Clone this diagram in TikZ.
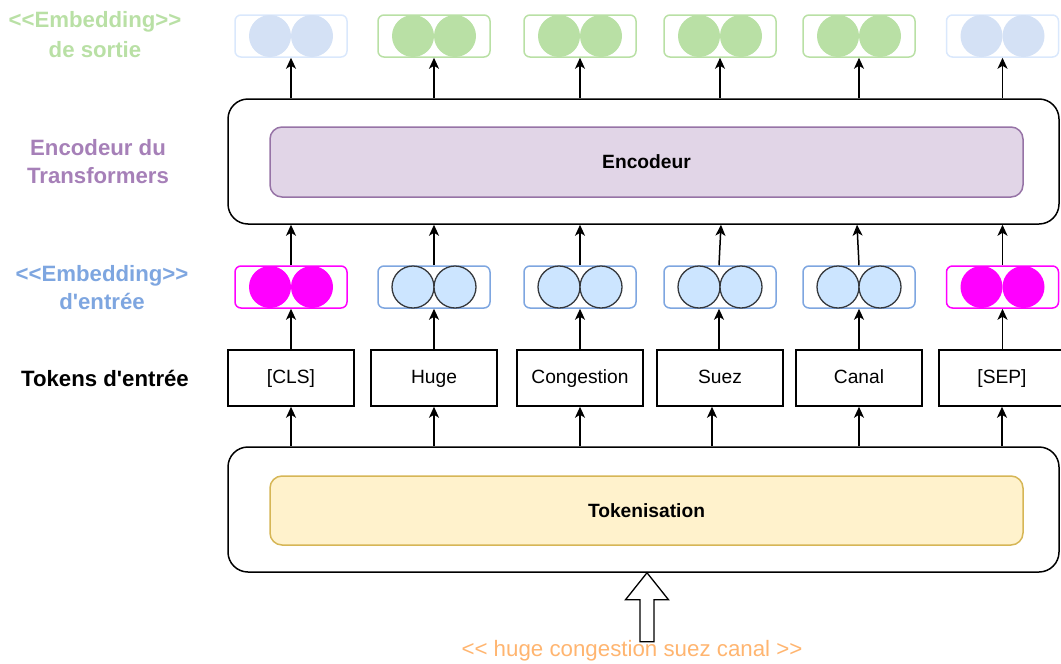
\documentclass[tikz,border=0pt]{standalone}
\usepackage{fontspec}
\setmainfont{Liberation Sans}[Ligatures=TeXOff]
\usetikzlibrary{arrows.meta,calc}
\definecolor{lgreen}{HTML}{B9E0A5}
\definecolor{lblue}{HTML}{D4E1F5}
\definecolor{lbluestroke}{HTML}{DAE8FC}
\definecolor{mblue}{HTML}{7EA6E0}
\definecolor{cblue}{HTML}{CCE5FF}
\definecolor{cstroke}{HTML}{36393D}
\definecolor{magent}{HTML}{FF00FF}
\definecolor{purp}{HTML}{A680B8}
\definecolor{purpfill}{HTML}{E1D5E7}
\definecolor{purpstroke}{HTML}{9673A6}
\definecolor{yelfill}{HTML}{FFF2CC}
\definecolor{yelstroke}{HTML}{D6B656}
\definecolor{orng}{HTML}{FFB570}
\begin{document}
\begin{tikzpicture}[x=1pt,y=-1pt,
  txt/.style={font=\fontsize{19.2}{22}\selectfont, text height=14pt, text depth=4pt},
  btxt/.style={font=\fontsize{19.2}{22}\selectfont\bfseries},
  lbl/.style={font=\fontsize{22.2}{28}\selectfont\bfseries, align=center, inner sep=0pt},
  outerbox/.style={draw=black, line width=1.5pt, rounded corners=20pt, minimum width=831pt, minimum height=125pt, inner sep=0pt},
  encbox/.style={draw=purpstroke, fill=purpfill, line width=1.5pt, rounded corners=12pt, minimum width=753pt, minimum height=70pt, inner sep=0pt, btxt},
  tokzbox/.style={draw=yelstroke, fill=yelfill, line width=1.5pt, rounded corners=12pt, minimum width=753pt, minimum height=69pt, inner sep=0pt, btxt},
  tokbox/.style={draw=black, line width=1.5pt, minimum width=126pt, minimum height=56pt, inner sep=0pt, txt},
  embbox/.style={line width=1.5pt, rounded corners=6pt, minimum width=112pt, minimum height=42pt, inner sep=0pt},
  dot/.style={circle, minimum size=42pt, inner sep=0pt},
  arr/.style={draw=black, line width=1.5pt, -{Stealth[length=11pt,width=10pt,inset=3pt]}}
]
\useasboundingbox (0,0) rectangle (1061,664);

% outer containers
\node[outerbox] (encout) at (643.5,161.5) {};
\node[encbox] (enc) at (646.5,162) {Encodeur};
\node[outerbox] (tokzout) at (643.5,509.5) {};
\node[tokzbox] (tokz) at (646.5,510.5) {Tokenisation};

% tokens
\node[tokbox] (tok1) at (291,378) {[CLS]};
\node[tokbox] (tok2) at (434,378) {Huge};
\node[tokbox] (tok3) at (580,378) {Congestion};
\node[tokbox] (tok4) at (720,378) {Suez};
\node[tokbox] (tok5) at (859,378) {Canal};
\node[tokbox] (tok6) at (1002,378) {[SEP]};

% input embeddings
\foreach \i/\x/\kind in {1/291/m,2/434/b,3/580/b,4/720/b,5/859/b,6/1002.5/m}{
  \if m\kind
    \node[embbox, draw=magent] (ein\i) at (\x,287) {};
    \node[dot, fill=magent] (einl\i) at ($(ein\i.center)+(-21,0)$) {};
    \node[dot, fill=magent] (einr\i) at ($(ein\i.center)+(21,0)$) {};
  \else
    \node[embbox, draw=mblue] (ein\i) at (\x,287) {};
    \node[dot, fill=cblue, draw=cstroke, line width=1.3pt] (einl\i) at ($(ein\i.center)+(-21,0)$) {};
    \node[dot, fill=cblue, draw=cstroke, line width=1.3pt] (einr\i) at ($(ein\i.center)+(21,0)$) {};
  \fi
}

% output embeddings
\foreach \i/\x/\kind in {1/291/b,2/434/g,3/580/g,4/720/g,5/859/g,6/1002.5/b}{
  \if b\kind
    \node[embbox, draw=lbluestroke] (eout\i) at (\x,36) {};
    \node[dot, fill=lblue] (eoutl\i) at ($(eout\i.center)+(-21,0)$) {};
    \node[dot, fill=lblue] (eoutr\i) at ($(eout\i.center)+(21,0)$) {};
  \else
    \node[embbox, draw=lgreen] (eout\i) at (\x,36) {};
    \node[dot, fill=lgreen] (eoutl\i) at ($(eout\i.center)+(-21,0)$) {};
    \node[dot, fill=lgreen] (eoutr\i) at ($(eout\i.center)+(21,0)$) {};
  \fi
}

% arrows: tokenisation -> tokens
\foreach \i in {1,2,3,5,6}{
  \draw[arr] (tokzout.north -| tok\i.south) -- (tok\i.south);
}
\coordinate (s4) at ([xshift=-8pt]tok4.south);
\draw[arr] (tokzout.north -| s4) -- (s4);

% tokens -> input embeddings
\foreach \i in {1,2,3,5,6}{
  \draw[arr] (tok\i.north -| ein\i.south) -- (ein\i.south);
}
\draw[arr] ([xshift=-1pt]tok4.north) -- ([xshift=-1pt]ein4.south);

% input embeddings -> encoder
\foreach \i in {1,2,3,6}{
  \draw[arr] (ein\i.north) -- (encout.south -| ein\i.north);
}
\draw[arr] ([xshift=-1pt]ein4.north) -- ([xshift=1pt]ein4.north |- encout.south);
\draw[arr] (ein5.north) -- ([xshift=-2pt]ein5.north |- encout.south);

% encoder -> output embeddings
\foreach \i in {1,2,3,4,5,6}{
  \draw[arr] (encout.north -| eout\i.south) -- (eout\i.south);
}

% big hollow input arrow
\coordinate (tip) at ([xshift=3.5pt]tokzout.south);
\draw[line width=1.3pt, fill=white, line join=miter]
  (tip) -- ($(tip)+(21.5,27)$) -- ($(tip)+(7,27)$) -- ($(tip)+(7,69)$)
  -- ($(tip)+(-7,69)$) -- ($(tip)+(-7,27)$) -- ($(tip)+(-21.5,27)$) -- cycle;
\node[font=\fontsize{22.3}{26}\selectfont, text=orng, inner sep=0pt] (inp) at (632,651) {<< huge congestion suez canal >>};

% left labels
\node[lbl, font=\fontsize{22.2}{30}\selectfont\bfseries, text=lgreen] (lout) at (95,35) {<<Embedding>>\\de sortie};
\node[lbl, text=purp] (lenc) at (98,162) {Encodeur du\\Transformers};
\node[lbl, text=mblue] (lein) at (102,288) {<<Embedding>>\\d'entrée};
\node[lbl, text=black] (ltok) at (105,378) {Tokens d'entrée};
\end{tikzpicture}
\end{document}
